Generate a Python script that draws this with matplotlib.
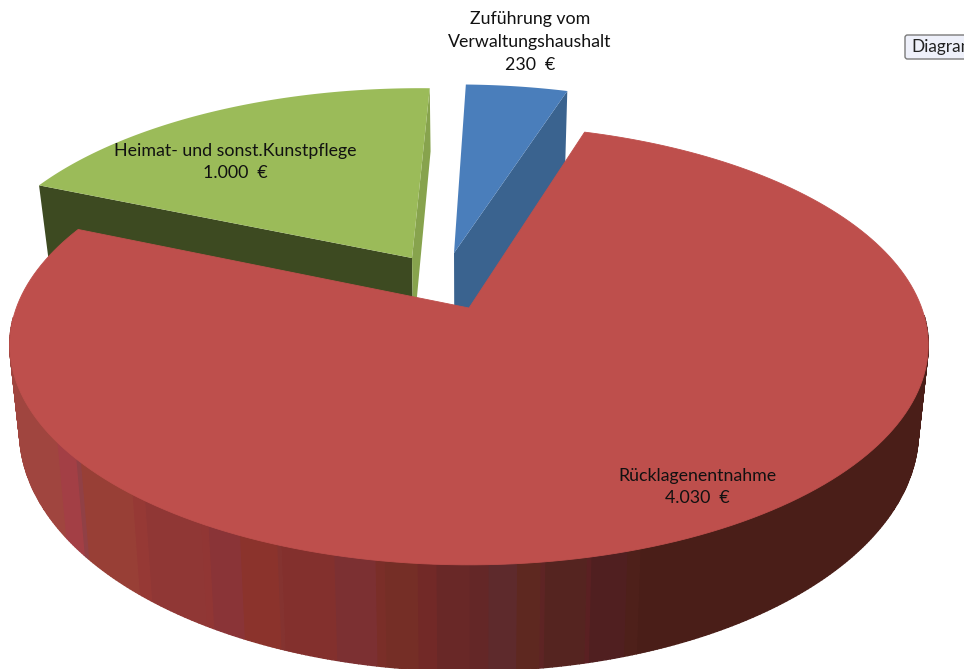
import numpy as np
import matplotlib
matplotlib.use("Agg")
import matplotlib.pyplot as plt
from matplotlib.patches import Polygon, FancyBboxPatch

labels = ["Zuführung vom\nVerwaltungshaushalt\n230  €", "Rücklagenentnahme\n4.030  €", "Heimat- und sonst.Kunstpflege\n1.000  €"]
values = [230, 4030, 1000]
top_colors = ["#4A7EBB", "#BE4F4C", "#9BBB59"]

band_edges = [57, 75, 80, 132, 143, 200, 208, 240, 277, 282, 332, 373, 383, 417, 437, 470, 487, 515, 538, 543, 585, 593, 628, 638]
band_colors = ["#A0453F", "#A33F45", "#914045", "#983F36", "#963935", "#903735", "#913634", "#8A3437", "#8B332C", "#843330",
               "#83302D", "#7C3032", "#7A2E28", "#752E26", "#722927", "#692827", "#642727", "#5E2A2C", "#5E2820", "#5E2424",
               "#552420", "#5A2022", "#501F20", "#4E201A", "#4A1E18"]

# projected disk: pixel position of a point on the top / bottom face
K = 0.168
def top_xy(u, v):
    w = 1 + K * v
    return 469 + 452.7 * u / w, 308 - 213.7 * v / w

def bottom_xy(u, v):
    w = 1 + K * v
    return 469 + 443 * u / w, 391 - 233 * v / w

def rim(a0, a1, du, dv, n=200):
    a = np.radians(np.linspace(a0, a1, n))
    return np.sin(a) + du, np.cos(a) + dv

def wedge(a0, a1, du, dv, face):
    u, v = rim(a0, a1, du, dv)
    x, y = face(np.r_[du, u], np.r_[dv, v])
    return np.column_stack([x, y])

def radial_wall(a, du, dv, extra=0):
    u, v = rim(a, a, du, dv, n=1)
    xt, yt = top_xy(np.r_[du, u], np.r_[dv, v])
    xb, yb = bottom_xy(np.r_[u, du], np.r_[v, dv])
    return np.column_stack([np.r_[xt, xb], np.r_[yt, yb + extra]])

fig = plt.figure(figsize=(9.64, 6.69), dpi=100)
ax = fig.add_axes([0, 0, 1, 1])
ax.set_xlim(0, 964)
ax.set_ylim(669, 0)
ax.axis("off")

start = 1.5
ang = start + np.r_[0, np.cumsum(values)] / sum(values) * 360
blue_off = (-0.0346, 0.269)
green_off = (-0.131, 0.2435)

# exploded slices behind the red one
ax.add_patch(Polygon(radial_wall(ang[1], *blue_off, extra=10), fc="#3A638F", ec="none"))
ax.add_patch(Polygon(wedge(ang[0], ang[1], *blue_off, top_xy), fc=top_colors[0], ec="none"))

ax.add_patch(Polygon(radial_wall(ang[2], *green_off), fc="#3D4A21", ec="none"))
ax.add_patch(Polygon(radial_wall(ang[3], *green_off), fc="#87A34D", ec="none"))
ax.add_patch(Polygon(wedge(ang[2], ang[3], *green_off, top_xy), fc=top_colors[2], ec="none"))

# red outer wall, strip by strip with a thick edge so no seams show
# only the front part, the back of the rim is never visible
steps = np.arange(92, 268, 0.5)
for a0, a1 in zip(steps[:-1], steps[1:]):
    u, v = rim(a0, a1, 0, 0, n=2)
    xt, yt = top_xy(u, v)
    xb, yb = bottom_xy(u[::-1], v[::-1])
    c = band_colors[np.searchsorted(band_edges, xt.mean())]
    ax.add_patch(Polygon(np.column_stack([np.r_[xt, xb], np.r_[yt, yb]]), fc=c, ec=c, lw=1.0))

ax.add_patch(Polygon(wedge(ang[1], ang[2], 0, 0, top_xy), fc=top_colors[1], ec=top_colors[1], lw=0.6))

# labels
font = dict(family="Lato", fontsize=12.8, color="#111111", ha="center", va="center", linespacing=1.53)
ax.text(530, 42, labels[0], **font)
ax.text(697, 487, labels[1], **font)
ax.text(235, 162, labels[2], **font)

# cut off button at the right edge
ax.add_patch(FancyBboxPatch((905, 35), 80, 24, boxstyle="round,pad=0,rounding_size=2.5",
                            fc="#EEF0FA", ec="#7A7A7A", lw=1.0))
ax.text(911, 47, "Diagramm", family="Lato", fontsize=12.4, color="#222222", va="center", clip_on=True)

fig.savefig("out.png", dpi=100)
